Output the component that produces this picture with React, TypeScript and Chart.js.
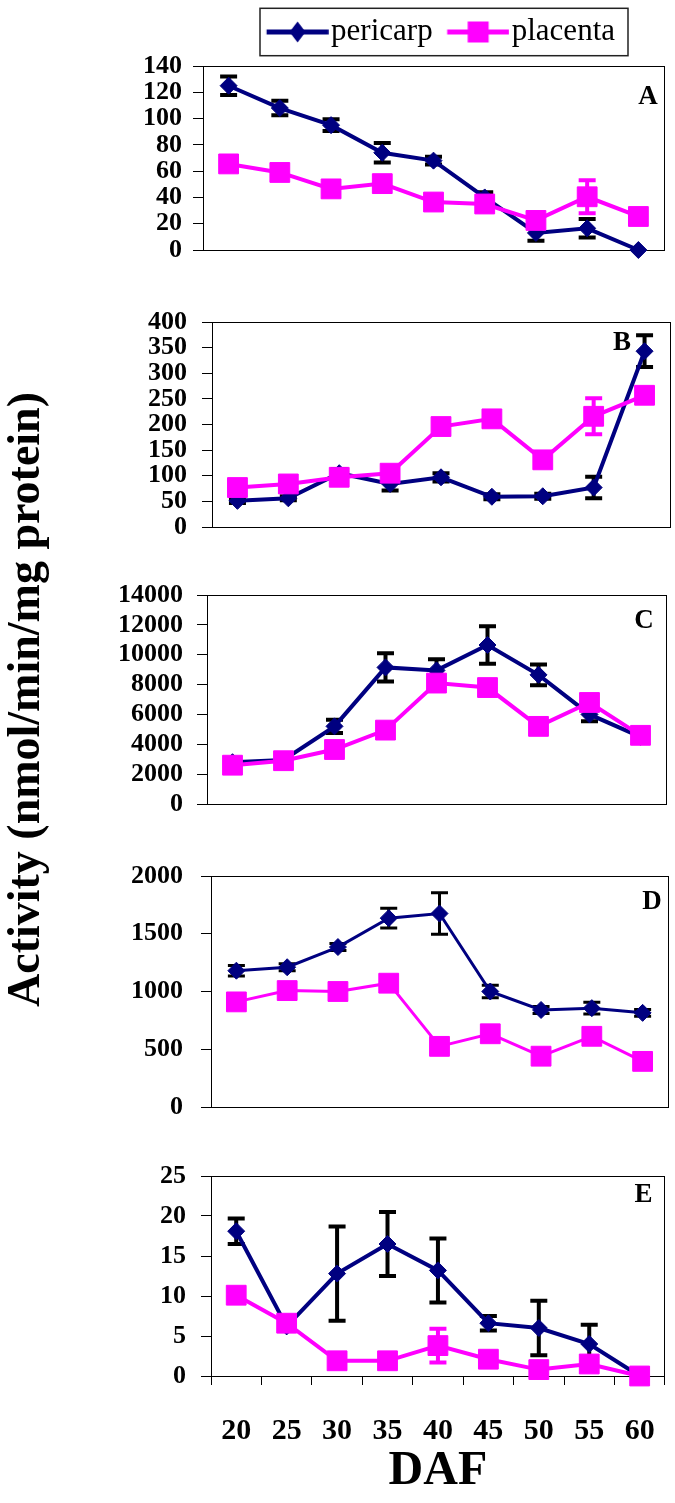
import React, { useEffect, useRef } from 'react';
import { Chart, registerables } from 'chart.js';

Chart.register(...registerables);

const FONT = "'Liberation Serif', 'Times New Roman', Times, serif";
const NAVY = '#000080';
const MAGENTA = '#FF00FF';

// ---------------- data ----------------
const daf = ['20', '25', '30', '35', '40', '45', '50', '55', '60'];

const pericarpA = [125, 108, 95, 74, 68, 40, 13, 16.5, 0];
const pericarpAErr = [7, 5.5, 4.5, 7.5, 3, 4, 6, 7, 0];
const placentaA = [65.5, 59, 46.5, 50.5, 36.5, 35, 22.5, 40.5, 25.5];
const placentaAErr = [3, 3, 3, 3, 2, 2, 4, 12.5, 3];

const pericarpB = [51, 56, 105, 84, 97, 59, 60, 77, 343];
const pericarpBErr = [4, 4, 8, 13, 8, 5, 5, 21, 31];
const placentaB = [77, 84, 97, 105, 196, 211, 131, 216, 257];
const placentaBErr = [5, 5, 6, 6, 10, 8, 8, 35, 6];

const pericarpC = [2800, 2950, 5200, 9150, 8950, 10650, 8650, 6000, 4500];
const pericarpCErr = [150, 150, 450, 950, 750, 1250, 700, 450, 200];
const placentaC = [2600, 2900, 3650, 4950, 8100, 7800, 5200, 6800, 4600];
const placentaCErr = [150, 150, 200, 200, 300, 300, 300, 350, 250];

const pericarpD = [1180, 1210, 1385, 1635, 1675, 1000, 840, 856, 815];
const pericarpDErr = [45, 30, 30, 85, 180, 55, 30, 50, 30];
const placentaD = [910, 1008, 1000, 1072, 525, 634, 440, 612, 395];
const placentaDErr = [20, 20, 40, 20, 20, 20, 20, 20, 20];

const pericarpE = [18.1, 6.2, 12.8, 16.5, 13.2, 6.6, 6.0, 4.0, 0];
const pericarpEErr = [1.6, 0.5, 5.9, 4.0, 4.0, 0.9, 3.4, 2.4, 0];
const placentaE = [10.1, 6.6, 1.9, 1.9, 3.8, 2.1, 0.8, 1.5, 0];
const placentaEErr = [0.3, 0.3, 0.3, 0.3, 2.1, 0.4, 0.2, 0.8, 0];

const seriesNames = ['pericarp', 'placenta'];
const yTitleText = 'Activity (nmol/min/mg protein)';
const xTitleText = 'DAF';

// ---------------- panel layout ----------------
const PANELS = [
  { letter: 'A', peri: pericarpA, periErr: pericarpAErr, plac: placentaA, placErr: placentaAErr,
    canvasTop: 0, canvasHeight: 270, plotLeft: 203, plotRight: 673, padTop: 16.5, padBottom: 20,
    yMax: 140, yStep: 20, tickPad: 11, dx: 16, dy: 31, lineWidth: 4, errWidth: 4, legend: true, legendGap: 8.5 },
  { letter: 'B', peri: pericarpB, periErr: pericarpBErr, plac: placentaB, placErr: placentaBErr,
    canvasTop: 302, canvasHeight: 245, plotLeft: 212, plotRight: 679, padTop: 20, padBottom: 20,
    yMax: 400, yStep: 50, tickPad: 15, dx: 48, dy: 21.5, lineWidth: 4, errWidth: 4 },
  { letter: 'C', peri: pericarpC, periErr: pericarpCErr, plac: placentaC, placErr: placentaCErr,
    canvasTop: 380, canvasHeight: 650, plotLeft: 207, plotRight: 675, padTop: 215, padBottom: 226,
    yMax: 14000, yStep: 2000, tickPad: 14, dx: 22, dy: 26, lineWidth: 4, errWidth: 4, yTitle: true },
  { letter: 'D', peri: pericarpD, periErr: pericarpDErr, plac: placentaD, placErr: placentaDErr,
    canvasTop: 856, canvasHeight: 271, plotLeft: 211, plotRight: 677, padTop: 20, padBottom: 20,
    yMax: 2000, yStep: 500, tickPad: 18, dx: 16, dy: 26, lineWidth: 3, errWidth: 3 },
  { letter: 'E', peri: pericarpE, periErr: pericarpEErr, plac: placentaE, placErr: placentaEErr,
    canvasTop: 1156, canvasHeight: 347, plotLeft: 211, plotRight: 678, padTop: 20, padBottom: 0,
    yMax: 25, yStep: 5, tickPad: 15, dx: 21.5, dy: 19, lineWidth: 4, errWidth: 4, xAxis: true, xHeight: 127 },
];

// ---------------- plugins ----------------
const align = (v: number) => Math.round(v - 0.5) + 0.5;

const boxPlugin = {
  id: 'plotBox',
  beforeDatasetsDraw(chart: any) {
    const { ctx, chartArea: a } = chart;
    const l = align(a.left), r = align(a.right), t = align(a.top), b = align(a.bottom);
    ctx.save();
    ctx.strokeStyle = '#000';
    ctx.lineWidth = 1;
    ctx.strokeRect(l, t, r - l, b - t);
    ctx.restore();
  },
};

const errorBarPlugin = {
  id: 'errorBars',
  beforeDatasetDraw(chart: any, args: any, opts: any) {
    const ds: any = chart.data.datasets[args.index];
    if (!ds || !ds.errors) return;
    const xs = chart.scales.x, ys = chart.scales.y, ctx = chart.ctx;
    const half = (opts.cap || 17) / 2;
    ctx.save();
    ctx.strokeStyle = ds.errColor;
    ctx.lineWidth = opts.width || 4;
    ctx.lineCap = 'butt';
    ds.data.forEach((v: number, i: number) => {
      const e = ds.errors[i];
      if (!e) return;
      const px = xs.getPixelForValue(i);
      const top = ys.getPixelForValue(v + e);
      const bot = ys.getPixelForValue(v - e);
      ctx.beginPath();
      ctx.moveTo(px, top); ctx.lineTo(px, bot);
      ctx.moveTo(px - half, top); ctx.lineTo(px + half, top);
      ctx.moveTo(px - half, bot); ctx.lineTo(px + half, bot);
      ctx.stroke();
    });
    ctx.restore();
  },
};

const letterPlugin = {
  id: 'panelLetter',
  afterDraw(chart: any, _args: any, opts: any) {
    if (!opts || !opts.text) return;
    const { ctx, chartArea: a } = chart;
    ctx.save();
    ctx.font = `bold ${opts.size}px ${FONT}`;
    ctx.fillStyle = '#000';
    ctx.textAlign = 'center';
    ctx.textBaseline = 'middle';
    ctx.fillText(opts.text, a.right - opts.dx, a.top + opts.dy);
    ctx.restore();
  },
};

const legendFramePlugin = {
  id: 'legendFrame',
  afterDraw(chart: any) {
    const lg = chart.legend;
    if (!lg || !lg.options || !lg.options.display) return;
    const hb = lg.legendHitBoxes;
    if (!hb || !hb.length) return;
    const last = hb[hb.length - 1];
    const l = hb[0].left + 8;
    const r = last.left + last.width + 13;
    const t = hb[0].top - 8.2;
    const b = hb[0].top + hb[0].height + 8.2;
    const ctx = chart.ctx;
    ctx.save();
    ctx.strokeStyle = '#222';
    ctx.lineWidth = 1.5;
    ctx.strokeRect(l, t, r - l, b - t);
    ctx.restore();
  },
};

function makeSymbol(color: string, shape: 'diamond' | 'square') {
  const c = document.createElement('canvas');
  c.width = 90;
  c.height = 24;
  const g = c.getContext('2d') as CanvasRenderingContext2D;
  g.strokeStyle = color;
  g.lineWidth = 5;
  g.beginPath();
  g.moveTo(27.75, 12);
  g.lineTo(89.75, 12);
  g.stroke();
  g.fillStyle = color;
  const cx = 58.75, cy = 12;
  if (shape === 'diamond') {
    g.beginPath();
    g.moveTo(cx, cy - 10.5);
    g.lineTo(cx + 8, cy);
    g.lineTo(cx, cy + 10.5);
    g.lineTo(cx - 8, cy);
    g.closePath();
    g.fill();
  } else {
    g.fillRect(cx - 10.5, cy - 10.5, 21, 21);
  }
  return c;
}

function Panel({ p }: { p: any }) {
  const ref = useRef<HTMLCanvasElement | null>(null);
  const width = p.plotRight + 6;

  useEffect(() => {
    if (!ref.current) return;
    const symPeri = makeSymbol(NAVY, 'diamond');
    const symPlac = makeSymbol(MAGENTA, 'square');

    const datasets: any[] = [
      {
        label: seriesNames[0], data: p.peri, errors: p.periErr, errColor: '#000',
        borderColor: NAVY, backgroundColor: NAVY, borderWidth: p.lineWidth, tension: 0,
        pointStyle: 'rectRot', pointRadius: 8.5, pointBorderWidth: 1,
        pointBackgroundColor: NAVY, pointBorderColor: NAVY, order: 1, clip: false,
      },
      {
        label: seriesNames[1], data: p.plac, errors: p.placErr, errColor: MAGENTA,
        borderColor: MAGENTA, backgroundColor: MAGENTA, borderWidth: p.lineWidth, tension: 0,
        pointStyle: 'rect', pointRadius: 14, pointBorderWidth: 1,
        pointBackgroundColor: MAGENTA, pointBorderColor: MAGENTA, order: 0, clip: false,
      },
    ];

    const tickFont = { family: FONT, size: 26, weight: 'bold' as const };

    const scales: any = {
      x: p.xAxis
        ? {
            type: 'category',
            offset: true,
            grid: { display: true, offset: true, drawOnChartArea: false, drawTicks: true, tickLength: 9, color: '#000', lineWidth: 1 },
            border: { display: false },
            ticks: { font: { family: FONT, size: 30, weight: 'bold' }, color: '#000', padding: 28.5, maxRotation: 0, autoSkip: false },
            title: { display: true, text: xTitleText, color: '#000', font: { family: FONT, size: 48, weight: 'bold' }, padding: { top: 0, bottom: 3 } },
            afterFit: (s: any) => { s.height = p.xHeight; },
          }
        : { type: 'category', offset: true, display: false },
      y: {
        min: 0,
        max: p.yMax,
        ticks: { stepSize: p.yStep, autoSkip: false, font: tickFont, color: '#000', padding: p.tickPad, callback: (v: any) => String(v) },
        grid: { display: true, drawOnChartArea: false, drawTicks: true, tickLength: 10, color: '#000', lineWidth: 1 },
        border: { display: false },
        title: p.yTitle
          ? { display: true, text: yTitleText, color: '#000', font: { family: FONT, size: 46, weight: 'bold' }, padding: 0 }
          : { display: false },
        afterFit: (s: any) => {
          s.width = p.plotLeft;
          s.paddingTop = 0;
          s.paddingBottom = 0;
        },
      },
    };
    if (p.legend) {
      // empty spacer axis between the legend and the plot area
      scales.x2 = {
        type: 'category',
        position: 'top',
        display: true,
        grid: { display: false, drawTicks: false },
        border: { display: false },
        ticks: { display: false },
        afterFit: (s: any) => { s.height = p.legendGap; s.paddingLeft = 0; s.paddingRight = 0; },
      };
    }

    const chart = new Chart(ref.current, {
      type: 'line',
      data: { labels: daf, datasets },
      options: {
        responsive: false,
        maintainAspectRatio: false,
        animation: false,
        events: [],
        layout: { padding: { top: p.padTop, bottom: p.padBottom, left: 0, right: 6 } },
        plugins: {
          tooltip: { enabled: false },
          legend: p.legend
            ? {
                display: true,
                position: 'top',
                fullSize: false,
                align: 'center',
                labels: {
                  usePointStyle: true,
                  pointStyleWidth: 63.6,
                  padding: 0,
                  color: '#000',
                  font: { family: FONT, size: 31, weight: 'normal' },
                  generateLabels: () => [
                    { text: seriesNames[0], pointStyle: symPeri, fillStyle: NAVY, strokeStyle: NAVY, lineWidth: 0, hidden: false, datasetIndex: 0, rotation: 0 },
                    { text: seriesNames[1], pointStyle: symPlac, fillStyle: MAGENTA, strokeStyle: MAGENTA, lineWidth: 0, hidden: false, datasetIndex: 1, rotation: 0 },
                  ],
                },
              }
            : { display: false },
          errorBars: { width: p.errWidth, cap: 17 },
          panelLetter: { text: p.letter, dx: p.dx, dy: p.dy, size: 27 },
        } as any,
        scales,
      },
      plugins: [boxPlugin, errorBarPlugin, letterPlugin, legendFramePlugin] as any,
    });
    return () => chart.destroy();
  }, [p]);

  return (
    <div style={{ position: 'absolute', left: 0, top: p.canvasTop, width, height: p.canvasHeight }}>
      <canvas ref={ref} width={width} height={p.canvasHeight} style={{ display: 'block', width, height: p.canvasHeight }} />
    </div>
  );
}

export default function App() {
  return (
    <div style={{ position: 'absolute', left: 0, top: 0, width: 675, height: 1503, overflow: 'hidden', background: '#fff' }}>
      {PANELS.map((p) => (
        <Panel key={p.letter} p={p} />
      ))}
    </div>
  );
}
